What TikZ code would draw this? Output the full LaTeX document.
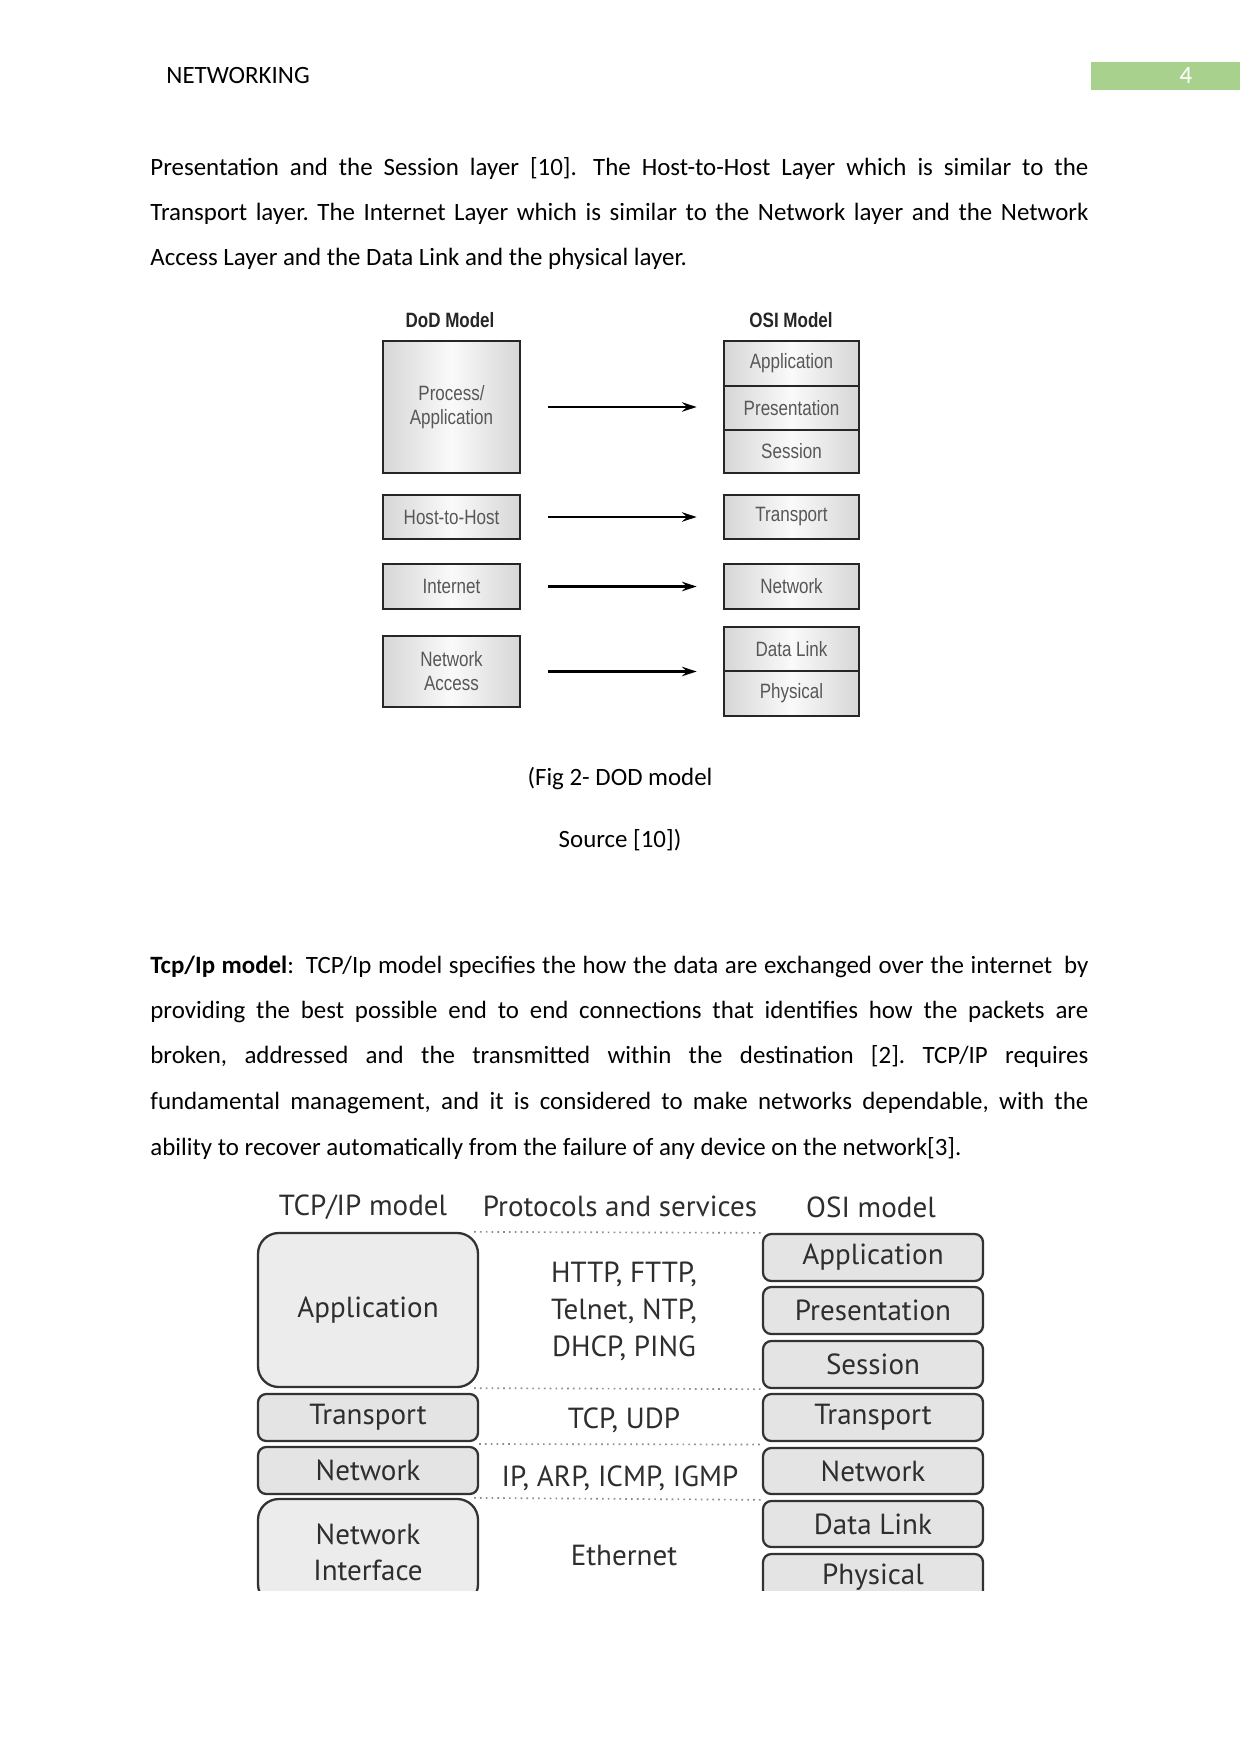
\documentclass[tikz,border=0pt]{standalone}
\usepackage{fontspec}
\setmainfont{Carlito}
\newfontfamily\dodfont[FakeStretch=0.82]{Liberation Sans}
\newfontfamily\tcpfont{PT Sans}
\usetikzlibrary{arrows.meta,calc}
\frenchspacing
\def\u{0.4818pt}
\def\tw{451.9pt}
\newcommand\xsp{\kern2.6pt\ }
\definecolor{pggreen}{HTML}{A9D18E}
\definecolor{tcptext}{HTML}{2E2E2E}
\definecolor{tcpfill}{HTML}{E4E4E4}
\definecolor{tcpfillb}{HTML}{ECECEC}
\tikzset{
  bodyline/.style={anchor=base west, inner sep=0pt, font=\fontsize{12}{14}\selectfont},
  capline/.style={anchor=base, inner sep=0pt, font=\fontsize{12}{14}\selectfont},
  dodbox/.style={draw=black!85, line width=1.3pt, left color=gray!32, right color=gray!32, middle color=gray!4,
    inner sep=0pt, align=center, text=black!66, font=\dodfont\fontsize{10}{11.5}\selectfont},
  dodtitle/.style={inner sep=0pt, text=black!85, font=\dodfont\bfseries\fontsize{10}{12}\selectfont},
  dodarrow/.style={line width=1.2pt, -{Stealth[length=7pt,width=4.5pt]}},
  tcpbox/.style={draw=black!80, line width=1.1pt, fill=tcpfill, inner sep=0pt, align=center,
    text=tcptext, rounded corners=4pt, minimum width={220*\u}, font=\tcpfont\fontsize{14}{17.5}\selectfont},
  tcptitle/.style={inner sep=0pt, text=tcptext, font=\tcpfont\fontsize{14}{17}\selectfont},
  tcptext/.style={inner sep=0pt, align=center, text=tcptext, font=\tcpfont\fontsize{14}{17.8}\selectfont},
  sepline/.style={dotted, line width=0.8pt, black!45},
}
\begin{document}
\begin{tikzpicture}[x=0.4818pt,y=-0.4818pt]
\fill[white] (0,0) rectangle (1241,1754);
\useasboundingbox (0,0) rectangle (1241,1754);

% header
\node[bodyline] (hdr) at (166,84) {NETWORKING};
\node[fill=pggreen, inner sep=0pt, minimum width={149*\u}, minimum height={28*\u}] (pgbox) at (1165.5,76) {};
\node[inner sep=0pt, text=white, font=\fontsize{12}{14}\selectfont] (pgnum) at (1186,76) {4};

% paragraph 1
\node[bodyline] (p1a) at (150,175.5) {\makebox[\tw][s]{Presentation and the Session layer [10].\xsp The Host-to-Host Layer which is similar to the}};
\node[bodyline] (p1b) at (150,220.5) {\makebox[\tw][s]{Transport layer. The Internet Layer which is similar to the Network layer and the Network}};
\node[bodyline] (p1c) at (150,265.5) {Access Layer and the Data Link and the physical layer.};

% DoD figure
\node[dodtitle] (dodt) at (450,320) {DoD Model};
\node[dodtitle] (osit) at (791,320) {OSI Model};
\node[dodbox, minimum width={137*\u}, minimum height={132*\u}] (proc) at (451.5,407) {Process/\\Application};
\node[dodbox, minimum width={137*\u}, minimum height={44*\u}] (h2h) at (451.5,517) {Host-to-Host};
\node[dodbox, minimum width={137*\u}, minimum height={45*\u}] (inet) at (451.5,586.5) {Internet};
\node[dodbox, minimum width={137*\u}, minimum height={71*\u}] (nacc) at (451.5,671.5) {Network\\Access};
\node[dodbox, minimum width={135*\u}, minimum height={45*\u}] (oapp) at (791.5,363.5) {Application};
\node[dodbox, minimum width={135*\u}, minimum height={44*\u}] (opres) at (791.5,408) {Presentation};
\node[dodbox, minimum width={135*\u}, minimum height={43*\u}] (osess) at (791.5,451.5) {Session};
\node[dodbox, minimum width={135*\u}, minimum height={44*\u}] (otrans) at (791.5,517) {Transport};
\node[dodbox, minimum width={135*\u}, minimum height={45*\u}] (onet) at (791.5,586.5) {Network};
\node[dodbox, minimum width={135*\u}, minimum height={44*\u}] (odl) at (791.5,649) {Data Link};
\node[dodbox, minimum width={135*\u}, minimum height={45*\u}] (ophys) at (791.5,693.5) {Physical};
\draw[dodarrow] ([xshift={27*\u}]proc.east) -- ([xshift={-26*\u}]proc.east -| opres.west);
\draw[dodarrow] ([xshift={27*\u}]h2h.east) -- ([xshift={-26*\u}]otrans.west);
\draw[dodarrow] ([xshift={27*\u}]inet.east) -- ([xshift={-26*\u}]onet.west);
\draw[dodarrow] ([xshift={27*\u}]nacc.east) -- ([xshift={-26*\u}]nacc.east -| odl.west);

% caption
\node[capline] (cap1) at (620,785) {(Fig 2- DOD model};
\node[capline] (cap2) at (620,847) {Source [10])};

% paragraph 2
\node[bodyline] (p2a) at (150,973.5) {\makebox[\tw][s]{\textbf{Tcp/Ip model}:\xsp TCP/Ip model specifies the how the data are exchanged over the internet\xsp by}};
\node[bodyline] (p2b) at (150,1018.5) {\makebox[\tw][s]{providing the best possible end to end connections that identifies how the packets are}};
\node[bodyline] (p2c) at (150,1063.5) {\makebox[\tw][s]{broken, addressed and the transmitted within the destination [2]. TCP/IP requires}};
\node[bodyline] (p2d) at (150,1109.5) {\makebox[\tw][s]{fundamental management, and it is considered to make networks dependable, with the}};
\node[bodyline] (p2e) at (150,1155.5) {ability to recover automatically from the failure of any device on the network[3].};

% TCP/IP figure
\node[tcptitle] (tcpt) at (363,1207) {TCP/IP model};
\node[tcptitle] (prot) at (620,1206) {Protocols and services};
\node[tcptitle] (osit2) at (871,1207) {OSI model};
\begin{scope}
\clip (0,0) rectangle (1241,1590);
\node[tcpbox, fill=tcpfillb, rounded corners=10pt, minimum height={154*\u}] (tapp) at (368,1310) {Application};
\node[tcpbox, minimum height={47*\u}] (ttrans) at (368,1417.5) {Transport};
\node[tcpbox, minimum height={47*\u}] (tnet) at (368,1470.5) {Network};
\node[tcpbox, fill=tcpfillb, rounded corners=10pt, minimum height={106*\u}] (tni) at (368,1552) {Network\\Interface};
\node[tcpbox, minimum height={47*\u}] (sapp) at (873,1257.5) {Application};
\node[tcpbox, minimum height={47*\u}] (spres) at (873,1310.5) {Presentation};
\node[tcpbox, minimum height={47*\u}] (ssess) at (873,1364.5) {Session};
\node[tcpbox, minimum height={47*\u}] (strans) at (873,1417.5) {Transport};
\node[tcpbox, minimum height={46*\u}] (snet) at (873,1471) {Network};
\node[tcpbox, minimum height={46*\u}] (sdl) at (873,1524) {Data Link};
\node[tcpbox, minimum height={47*\u}] (sphys) at (873,1577.5) {Physical};
\end{scope}
\draw[sepline] ([xshift={-5*\u}]tapp.north east) -- (sapp.north west);
\draw[sepline] ([xshift={-5*\u}]tapp.south east) -- (ssess.south west);
\draw[sepline] ($(ttrans.south east)!0.5!(tnet.north east)$) -- ($(strans.south west)!0.5!(snet.north west)$);
\draw[sepline] ([xshift={-5*\u}]tni.north east) -- (sdl.north west);
\node[tcptext] (proto1) at (624,1311) {HTTP, FTTP,\\Telnet, NTP,\\DHCP, PING};
\node[tcptext] (proto2) at (624,1420) {TCP, UDP};
\node[tcptext] (proto3) at (620,1478) {IP, ARP, ICMP, IGMP};
\node[tcptext] (proto4) at (624,1555) {Ethernet};
\end{tikzpicture}
\end{document}
